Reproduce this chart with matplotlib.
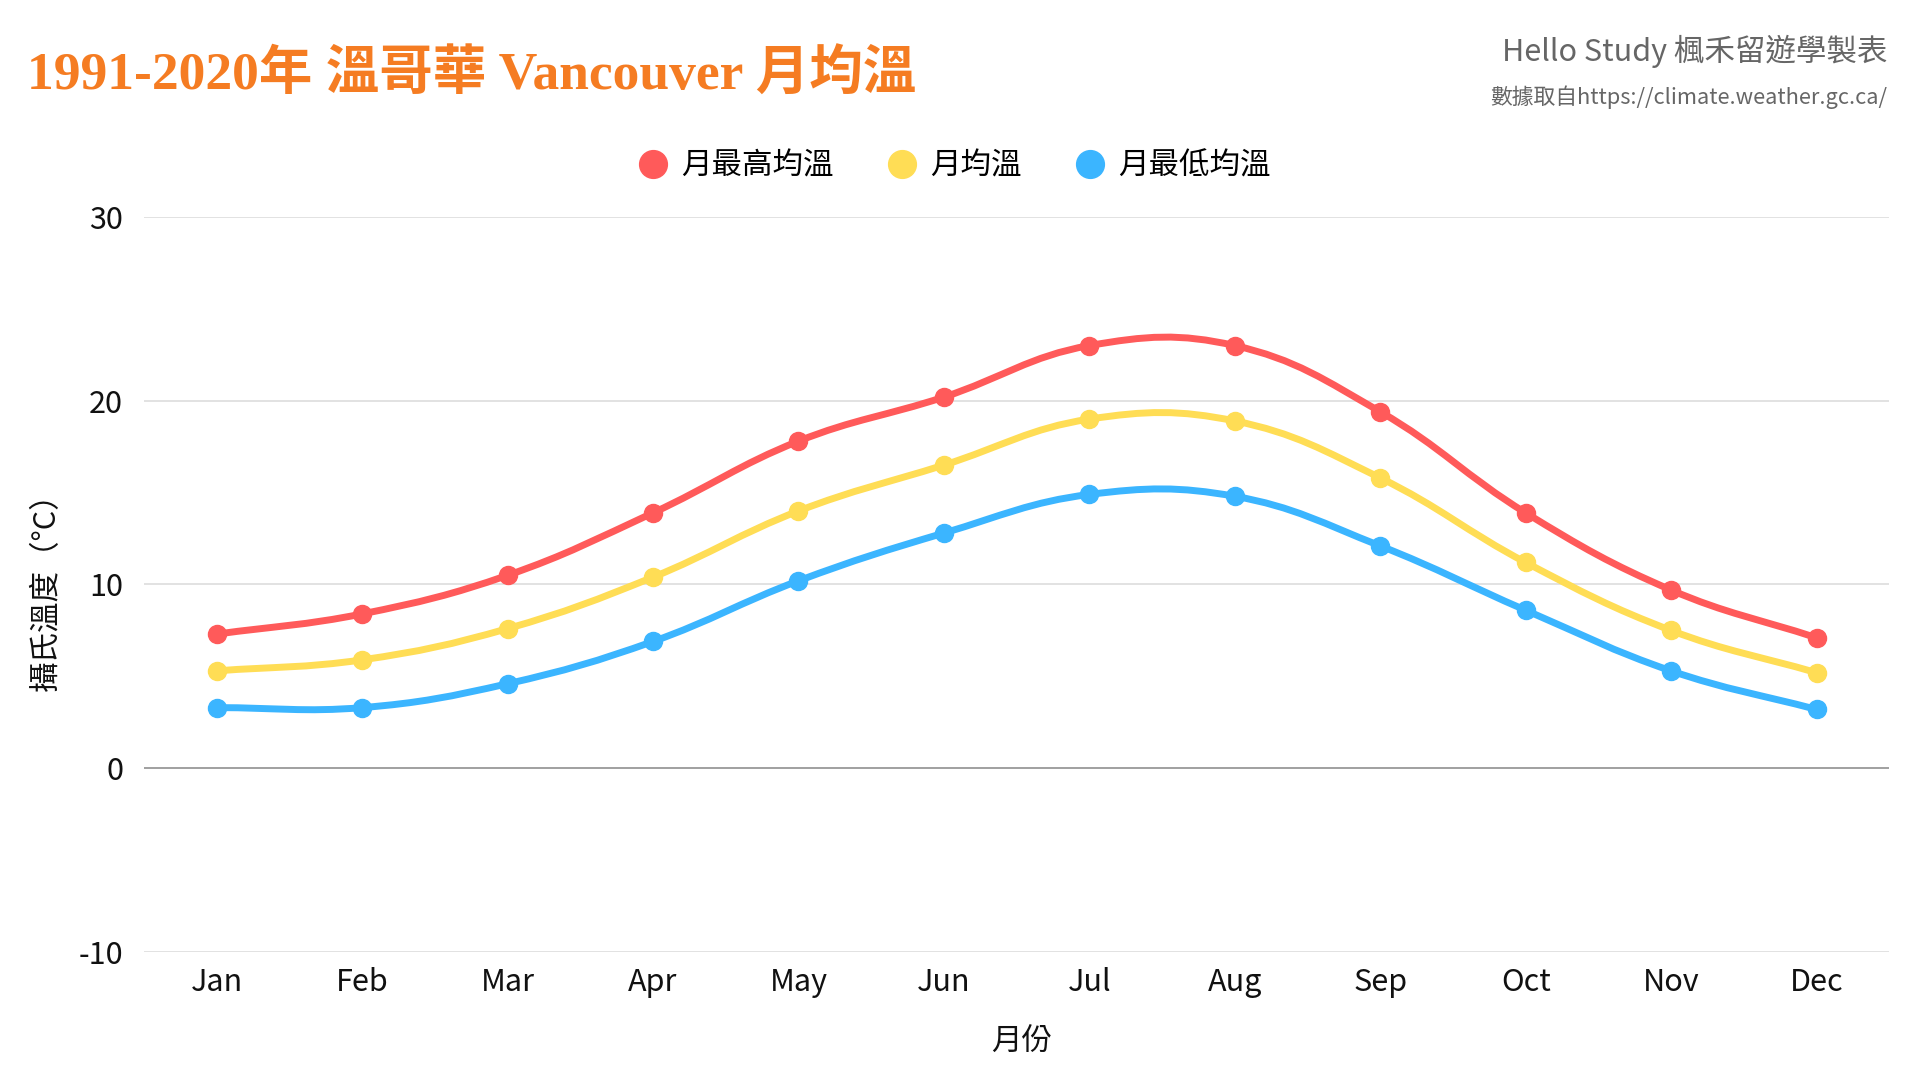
import numpy as np
import matplotlib
matplotlib.use('Agg')
import matplotlib.pyplot as plt
from matplotlib.path import Path
from matplotlib.patches import PathPatch
from matplotlib.lines import Line2D

months = ['Jan', 'Feb', 'Mar', 'Apr', 'May', 'Jun', 'Jul', 'Aug', 'Sep', 'Oct', 'Nov', 'Dec']
t_max = [7.3, 8.4, 10.5, 13.9, 17.8, 20.2, 23.0, 23.0, 19.4, 13.9, 9.7, 7.1]
t_mean = [5.3, 5.9, 7.6, 10.4, 14.0, 16.5, 19.0, 18.9, 15.8, 11.2, 7.5, 5.2]
t_min = [3.3, 3.3, 4.6, 6.9, 10.2, 12.8, 14.9, 14.8, 12.1, 8.6, 5.3, 3.2]
series_names = ['月最高均溫', '月均溫', '月最低均溫']
series_colors = ['#FF5A5A', '#FFDD55', '#3BB5FF']
yticks = [-10, 0, 10, 20, 30]

title = '1991-2020年 溫哥華 Vancouver 月均溫'
credit1 = 'Hello Study 楓禾留遊學製表'
credit2 = '數據取自https://climate.weather.gc.ca/'
xlab = '月份'
ylab = '攝氏溫度（°C）'

SANS = ['Noto Sans CJK TC', 'DejaVu Sans']
plt.rcParams['font.family'] = SANS

fig = plt.figure(figsize=(19.2, 10.8), dpi=100)
fig.patch.set_facecolor('white')
ax = fig.add_axes([0.075, 0.1185, 0.909, 0.6806])
ax.set_xlim(-0.5, len(months) - 0.5)
ax.set_ylim(-10, 30)
for s in ax.spines.values():
    s.set_visible(False)
ax.tick_params(length=0)
ax.set_yticks(yticks)
ax.set_yticklabels([str(v) for v in yticks], fontsize=22, color='#111111')
ax.tick_params(axis='y', pad=15)
ax.set_xticks(range(len(months)))
ax.set_xticklabels(months, fontsize=22, color='#111111')
ax.tick_params(axis='x', pad=11)
for v in yticks:
    if v == 0:
        ax.axhline(v, color='#999999', lw=1.3, zorder=1)
    else:
        ax.axhline(v, color='#dddddd', lw=1.2, zorder=1)


def smooth_path(xs, ys, tension=0.4):
    pts = ax.transData.transform(np.column_stack([xs, ys]))
    n = len(pts)
    cps = []
    for i in range(n):
        prev = pts[i - 1] if i > 0 else pts[i]
        cur = pts[i]
        nxt = pts[i + 1] if i < n - 1 else pts[i]
        d01 = np.hypot(*(cur - prev))
        d12 = np.hypot(*(nxt - cur))
        tot = d01 + d12
        fa = tension * d01 / tot if tot else 0
        fb = tension * d12 / tot if tot else 0
        cps.append((cur - fa * (nxt - prev), cur + fb * (nxt - prev)))
    verts = [pts[0]]
    codes = [Path.MOVETO]
    for i in range(n - 1):
        verts += [cps[i][1], cps[i + 1][0], pts[i + 1]]
        codes += [Path.CURVE4] * 3
    verts = ax.transData.inverted().transform(np.array(verts))
    return Path(verts, codes)


x = np.arange(len(months))
for vals, col in zip([t_max, t_mean, t_min], series_colors):
    p = smooth_path(x, vals)
    ax.add_patch(PathPatch(p, facecolor='none', edgecolor=col, lw=5,
                           capstyle='round', joinstyle='round', zorder=3))
    ax.plot(x, vals, 'o', color=col, ms=13, mec=col, zorder=4)

handles = [Line2D([], [], marker='o', ls='none', color=c, ms=20) for c in series_colors]
fig.legend(handles, series_names, loc='center', bbox_to_anchor=(0.497, 0.846), ncol=3,
           frameon=False, fontsize=22, handletextpad=0.42, columnspacing=1.75,
           handlelength=1.0)

fig.text(0.014, 0.930, title, fontsize=38.5, fontweight='bold', color='#F57C22',
         family=['Liberation Serif', 'Noto Sans CJK TC'], ha='left', va='center')
fig.text(0.983, 0.952, credit1, fontsize=22, color='#666666', ha='right', va='center')
fig.text(0.983, 0.910, credit2, fontsize=15.7, color='#666666', ha='right', va='center')
fig.text(0.532, 0.035, xlab, fontsize=22, color='#111111', ha='center', va='center')
fig.text(0.024, 0.459, ylab, fontsize=22, color='#111111', ha='center', va='center',
         rotation=90)

fig.savefig('out.png', dpi=100, facecolor='white')
